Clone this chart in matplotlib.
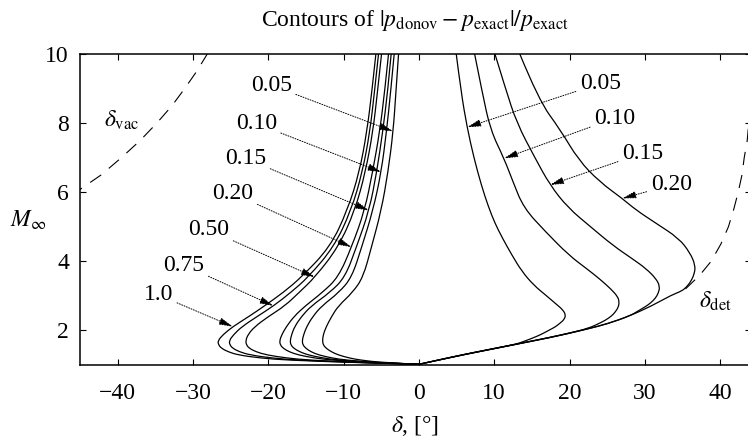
import numpy as np
import matplotlib
matplotlib.use('Agg')
import matplotlib.pyplot as plt
from matplotlib.path import Path
from matplotlib.patches import PathPatch

plt.rcParams['font.family'] = ['Liberation Serif', 'DejaVu Serif']
plt.rcParams['mathtext.fontset'] = 'stix'
plt.rcParams['font.size'] = 17

# left branch contours (delta < 0), shared Mach grid
mach_left = [10, 8.9, 7.76, 6.58, 5.47, 4.41, 3.54, 3.1, 2.71, 2.4, 2.11, 1.88,
             1.70, 1.58, 1.48, 1.38, 1.29, 1.20, 1.14, 1.07, 1.02]
left_100 = [-5.71, -6.25, -6.9, -7.9, -9.5, -11.8, -15.6, -18.0, -20.5, -22.6, -24.7, -26.0,
            -26.7, -26.6, -26.2, -25.3, -24.0, -21.0, -17.4, -8.5, 0]
left_075 = [-5.36, -5.9, -6.5, -7.5, -9.0, -11.3, -14.7, -17.0, -19.3, -21.5, -23.5, -24.6,
            -25.2, -25.1, -24.7, -23.8, -22.4, -19.5, -16.0, -8.0, 0]
left_050 = [-4.96, -5.5, -6.1, -7.1, -8.5, -10.7, -13.8, -15.9, -17.8, -20.0, -21.8, -22.7,
            -23.0, -22.9, -22.5, -21.6, -20.2, -17.5, -14.5, -7.5, 0]
left_020 = [-4.03, -4.55, -5.2, -6.15, -7.2, -8.94, -10.7, -12.8, -15.1, -16.6, -17.6, -18.2,
            -18.5, -18.4, -18.0, -17.2, -16.0, -13.8, -11.5, -6.3, 0]
left_015 = [-3.68, -4.15, -4.8, -5.6, -6.6, -8.3, -9.8, -11.8, -14.3, -15.6, -16.5, -16.9,
            -17.1, -17.0, -16.6, -15.8, -14.7, -12.7, -10.6, -5.9, 0]
left_010 = [-3.28, -3.75, -4.3, -5.0, -6.1, -7.6, -8.9, -10.6, -12.9, -14.1, -14.9, -15.3,
            -15.5, -15.4, -15.0, -14.3, -13.3, -11.5, -9.6, -5.5, 0]
left_005 = [-2.70, -3.05, -3.41, -4.1, -5.0, -6.3, -7.4, -8.8, -10.7, -11.6, -12.3, -12.7,
            -12.8, -12.7, -12.3, -11.6, -10.7, -9.2, -7.7, -4.8, 0]

# right branch contours (delta > 0)
right_005_d = [4.96, 5.6, 6.4, 7.3, 8.3, 9.2, 10.1, 11.1, 12.3, 13.7, 15.3, 16.8, 18.3, 19.1,
               19.5, 19.3, 18.8, 18.1, 17.3, 16.2, 15.0, 13.9, 13.0, 12, 9, 6, 3, 0]
right_005_m = [10, 8.9, 7.88, 7.0, 6.2, 5.6, 5.1, 4.67, 4.2, 3.70, 3.3, 3.03, 2.75, 2.6,
               2.45, 2.32, 2.22, 2.10, 2.01, 1.88, 1.77, 1.68, 1.61, 1.565, 1.435, 1.305, 1.165, 1.02]
right_010_d = [7.4, 8.4, 9.5, 11.3, 12.5, 13.9, 16.8, 19.9, 22.2, 23.9, 25.5, 26.4, 26.6, 26.5,
               26.1, 25.6, 24.8, 24.0, 22.5, 20, 17.5, 15, 12, 9, 6, 3, 0]
right_010_m = [10, 8.9, 7.8, 6.98, 6.3, 5.55, 4.86, 4.18, 3.8, 3.51, 3.2, 2.98, 2.83, 2.68,
               2.54, 2.42, 2.30, 2.21, 2.06, 1.925, 1.805, 1.695, 1.565, 1.435, 1.305, 1.165, 1.02]
right_015_d = [10.1, 11.5, 13.0, 15.4, 17.4, 19.8, 22.8, 25.7, 28.5, 30.1, 31.5, 32.0, 31.8,
               31.4, 30.8, 30.1, 29.0, 28, 25, 22.5, 20, 17.5, 15, 12, 9, 6, 3, 0]
right_015_m = [10, 9.0, 8.0, 7.0, 6.21, 5.55, 5.0, 4.47, 4.05, 3.8, 3.5, 3.27, 3.08,
               2.93, 2.80, 2.69, 2.55, 2.42, 2.19, 2.05, 1.92, 1.80, 1.69, 1.56, 1.43, 1.30, 1.16, 1.02]
right_020_d = [13.4, 15.9, 18.8, 21.2, 24.0, 27.0, 28.8, 31.5, 34.5, 36.0, 36.7, 36.6, 36.1,
               35.5, 34.9, 33.5, 31, 28, 25, 22.5, 20, 17.5, 15, 12, 9, 6, 3, 0]
right_020_m = [10, 8.67, 7.8, 6.93, 6.3, 5.82, 5.49, 5.1, 4.67, 4.25, 3.89, 3.65, 3.41,
               3.25, 3.14, 3.02, 2.72, 2.42, 2.19, 2.05, 1.92, 1.80, 1.69, 1.56, 1.43, 1.30, 1.16, 1.02]

# limiting angles
det_mach = [3.2, 3.6, 4.0, 4.5, 5.0, 5.5, 6.0, 6.5, 7.0, 7.5, 8.0]
det_delta = [35.4, 37.3, 38.8, 40.1, 41.1, 41.8, 42.4, 42.9, 43.2, 43.6, 43.8]
vac_mach = [5.9, 6.5, 7.0, 7.5, 8.0, 8.5, 9.0, 9.5, 10.0]
vac_delta = [-46.2, -42.2, -39.5, -37.0, -34.8, -32.8, -31.1, -29.5, -28.1]

# labels: text, text position, arrow tip
left_labels = ['0.05', '0.10', '0.15', '0.20', '0.50', '0.75', '1.0']
left_text = [(-19.6, 9.10), (-21.6, 7.99), (-23.0, 6.98), (-24.7, 5.97),
             (-27.9, 4.91), (-31.2, 3.89), (-34.6, 3.03)]
left_tips = [(-3.41, 7.76), (-4.96, 6.58), (-6.6, 5.47), (-8.94, 4.41),
             (-13.8, 3.54), (-19.3, 2.71), (-24.7, 2.11)]
right_labels = ['0.05', '0.10', '0.15', '0.20']
right_text = [(24.1, 9.15), (26.0, 8.14), (29.7, 7.13), (33.5, 6.21)]
right_tips = [(6.4, 7.88), (11.3, 6.98), (17.4, 6.21), (27.0, 5.82)]


def smooth_curve(ax, xs, ys, **kw):
    # quadratic bezier through midpoints, read points act as control points
    pts = np.column_stack([xs, ys])
    verts = [pts[0]]
    codes = [Path.MOVETO]
    for i in range(1, len(pts) - 1):
        mid = (pts[i] + pts[i + 1]) / 2 if i < len(pts) - 2 else pts[-1]
        verts += [pts[i], mid]
        codes += [Path.CURVE3, Path.CURVE3]
    if len(pts) == 2:
        verts.append(pts[1])
        codes.append(Path.LINETO)
    ax.add_patch(PathPatch(Path(verts, codes), fill=False, **kw))


fig = plt.figure(figsize=(7.48, 4.43), dpi=100)
ax = fig.add_axes([80 / 748, 78 / 443, 671 / 748, 311 / 443])

for d in [left_100, left_075, left_050, left_020, left_015, left_010, left_005]:
    smooth_curve(ax, d, mach_left, color='k', lw=0.9)
for d, m in [(right_005_d, right_005_m), (right_010_d, right_010_m),
             (right_015_d, right_015_m), (right_020_d, right_020_m)]:
    smooth_curve(ax, d, m, color='k', lw=0.9)

ax.plot(det_delta, det_mach, color='k', lw=0.8, linestyle=(0, (12, 9)))
ax.plot(vac_delta, vac_mach, color='k', lw=0.8, linestyle=(0, (12, 9)))

arrow = dict(arrowstyle='-|>,head_length=0.7,head_width=0.18', color='k', lw=0.7,
             linestyle=(0, (1, 1.6)), shrinkA=1, shrinkB=0, mutation_scale=12)
for lab, xyt, tip in zip(left_labels, left_text, left_tips):
    ax.annotate(lab, xy=tip, xytext=xyt, ha='center', va='center', arrowprops=arrow)
for lab, xyt, tip in zip(right_labels, right_text, right_tips):
    ax.annotate(lab, xy=tip, xytext=xyt, ha='center', va='center', arrowprops=arrow)

ax.text(-39.5, 8.09, r'$\delta_{\mathrm{vac}}$', ha='center', va='center')
ax.text(39.4, 2.83, r'$\delta_{\mathrm{det}}$', ha='center', va='center')

ax.set_xlim(-45, 44.1)
ax.set_ylim(1, 10)
ax.set_xticks(np.arange(-40, 41, 10))
ax.set_yticks([2, 4, 6, 8, 10])
ax.tick_params(direction='in', length=4.5, width=0.8, top=True, right=True)
ax.tick_params(axis='x', pad=13)
ax.tick_params(axis='y', pad=8)
for s in ax.spines.values():
    s.set_linewidth(1.1)

ax.set_xlabel(r'$\delta$, [°]', labelpad=7)
ax.set_ylabel(r'$M_\infty$', rotation=0, ha='center', va='center')
ax.yaxis.set_label_coords(-0.078, 0.466)
ax.set_title(r'Contours of $|p_{\mathrm{donov}} - p_{\mathrm{exact}}|/p_{\mathrm{exact}}$',
             fontsize=17, pad=20)

plt.savefig('out.png', dpi=100)
plt.close(fig)
